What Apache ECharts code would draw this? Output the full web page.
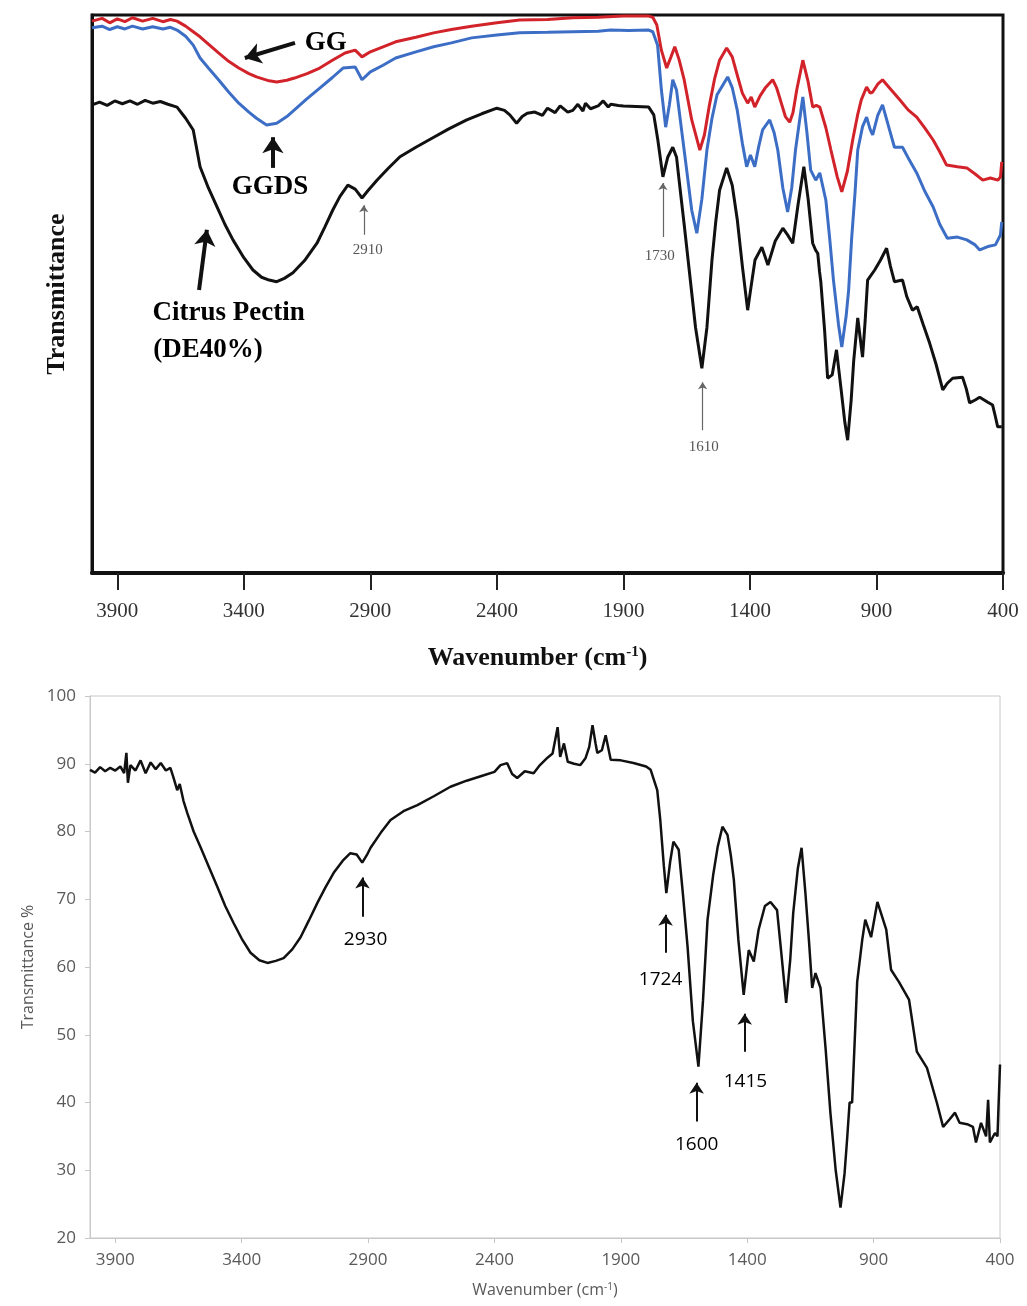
<!DOCTYPE html>
<html>
<head>
<meta charset="utf-8">
<script src="https://cdn.jsdelivr.net/npm/echarts@6/dist/echarts.min.js"></script>
<style>
  html, body { margin: 0; padding: 0; background: #fff; }
  #chart { width: 1027px; height: 1306px; }
</style>
</head>
<body>
<div id="chart"></div>
<script>
// tick labels shared by both panels
const xTicks = [3900, 3400, 2900, 2400, 1900, 1400, 900, 400];
const yTicksBottom = [20, 30, 40, 50, 60, 70, 80, 90, 100];

// top panel: GG (red)
const ggWn = [4000, 3960, 3930, 3900, 3870, 3840, 3800, 3760, 3720, 3690, 3664, 3630, 3600, 3573, 3540, 3500, 3460, 3420, 3380, 3350, 3300, 3270, 3230, 3200, 3150, 3100, 3050, 3000, 2960, 2933, 2900, 2850, 2800, 2720, 2650, 2580, 2500, 2400, 2310, 2200, 2100, 2000, 1900, 1800, 1784, 1768, 1750, 1729, 1712, 1697, 1680, 1660, 1630, 1598, 1580, 1560, 1540, 1520, 1492, 1470, 1450, 1430, 1409, 1395, 1381, 1360, 1340, 1310, 1295, 1280, 1260, 1243, 1230, 1215, 1191, 1170, 1152, 1138, 1124, 1100, 1080, 1055, 1037, 1015, 994, 975, 960, 939, 925, 915, 895, 876, 850, 808, 775, 741, 710, 676, 650, 623, 580, 543, 510, 480, 450, 420, 410, 405];
const ggT = [98.9, 99.4, 98.6, 99.3, 98.8, 99.5, 98.9, 99.4, 98.8, 99.2, 98.9, 98.0, 97.0, 96.1, 94.8, 93.2, 91.7, 90.5, 89.5, 88.9, 88.2, 88.0, 88.3, 88.7, 89.5, 90.5, 91.9, 93.2, 93.7, 92.5, 93.4, 94.3, 95.2, 96.0, 96.8, 97.4, 98.0, 98.6, 99.1, 99.2, 99.5, 99.6, 99.8, 99.8, 99.6, 98.2, 93.7, 90.5, 92.5, 94.3, 92.0, 88.4, 81.2, 75.8, 78.5, 83.9, 88.5, 91.9, 94.1, 92.5, 89.2, 86.0, 84.2, 85.3, 83.5, 85.5, 86.9, 88.4, 87.0, 84.8, 81.8, 80.8, 82.5, 86.6, 91.9, 88.0, 83.5, 83.8, 83.5, 79.8, 75.8, 71.0, 68.3, 72.0, 77.6, 82.0, 84.8, 87.1, 86.0, 86.2, 87.6, 88.4, 87.0, 84.8, 83.0, 81.7, 79.8, 77.6, 75.5, 73.1, 72.8, 72.6, 71.5, 70.4, 70.8, 70.4, 71.0, 73.7];

// top panel: GGDS (blue)
const ggdsWn = [4000, 3960, 3930, 3900, 3870, 3840, 3800, 3760, 3720, 3690, 3664, 3630, 3600, 3573, 3540, 3500, 3460, 3420, 3380, 3350, 3310, 3270, 3230, 3200, 3150, 3100, 3050, 3008, 2960, 2933, 2900, 2850, 2800, 2720, 2650, 2580, 2500, 2400, 2310, 2200, 2100, 2000, 1950, 1880, 1800, 1784, 1765, 1750, 1733, 1718, 1705, 1690, 1680, 1650, 1630, 1610, 1590, 1570, 1550, 1530, 1488, 1470, 1450, 1430, 1413, 1398, 1381, 1365, 1350, 1322, 1305, 1290, 1270, 1251, 1235, 1220, 1191, 1175, 1160, 1140, 1124, 1100, 1085, 1070, 1050, 1037, 1020, 1010, 998, 985, 974, 955, 939, 925, 915, 895, 876, 855, 829, 797, 770, 741, 710, 676, 650, 620, 580, 543, 510, 492, 460, 430, 410, 405];
const ggdsT = [97.7, 98.0, 97.4, 97.9, 97.5, 98.0, 97.5, 97.9, 97.5, 97.8, 97.3, 96.2, 94.6, 92.3, 90.5, 88.4, 86.2, 84.2, 82.6, 81.5, 80.3, 80.6, 81.8, 83.0, 85.0, 86.9, 88.8, 90.5, 90.7, 88.4, 89.8, 91.0, 92.3, 93.4, 94.3, 95.0, 95.9, 96.4, 96.8, 96.9, 97.0, 97.1, 97.3, 97.2, 97.3, 97.0, 94.6, 86.6, 79.9, 84.0, 88.4, 86.5, 82.9, 72.2, 65.0, 60.9, 67.0, 75.8, 81.5, 85.7, 88.9, 87.0, 82.9, 77.0, 72.8, 74.9, 72.8, 76.5, 79.4, 81.2, 79.0, 75.8, 69.0, 64.7, 69.0, 75.8, 85.3, 79.0, 72.2, 70.4, 71.7, 66.8, 60.0, 52.5, 44.5, 40.5, 46.0, 50.7, 60.0, 68.0, 75.8, 80.0, 81.7, 79.5, 78.5, 82.0, 83.9, 80.5, 76.3, 76.3, 74.0, 71.7, 68.5, 65.6, 62.5, 60.0, 60.2, 59.7, 58.8, 57.9, 58.5, 58.8, 60.6, 62.9];

// top panel: Citrus Pectin DE40% (black)
const pectinWn = [4000, 3970, 3940, 3910, 3880, 3850, 3820, 3790, 3760, 3730, 3700, 3664, 3630, 3600, 3573, 3540, 3506, 3475, 3443, 3400, 3364, 3330, 3300, 3270, 3240, 3206, 3160, 3111, 3080, 3048, 3020, 2989, 2960, 2933, 2910, 2874, 2830, 2783, 2720, 2653, 2590, 2519, 2460, 2400, 2370, 2349, 2322, 2300, 2280, 2250, 2220, 2200, 2170, 2150, 2120, 2100, 2080, 2060, 2050, 2030, 2000, 1980, 1960, 1950, 1920, 1900, 1850, 1800, 1780, 1764, 1744, 1725, 1705, 1690, 1680, 1660, 1640, 1615, 1590, 1570, 1550, 1535, 1520, 1492, 1470, 1450, 1430, 1409, 1395, 1380, 1353, 1329, 1300, 1270, 1250, 1231, 1210, 1187, 1170, 1152, 1140, 1132, 1125, 1120, 1105, 1093, 1075, 1058, 1040, 1025, 1014, 1000, 990, 974, 955, 945, 935, 907, 885, 860, 845, 829, 797, 780, 758, 739, 715, 690, 665, 638, 620, 599, 560, 545, 532, 510, 492, 460, 441, 430, 421, 405];
const pectinT = [83.9, 84.4, 83.8, 84.6, 84.1, 84.6, 84.0, 84.7, 84.2, 84.5, 84.0, 83.5, 81.5, 79.4, 72.8, 69.0, 65.6, 62.5, 59.7, 56.5, 54.3, 53.0, 52.5, 52.2, 52.8, 53.8, 56.0, 59.1, 62.0, 65.1, 67.5, 69.5, 68.8, 67.2, 68.5, 70.4, 72.5, 74.6, 76.3, 78.0, 79.6, 81.2, 82.3, 83.3, 82.9, 82.1, 80.6, 81.8, 82.4, 82.6, 82.0, 83.3, 82.5, 83.7, 82.6, 82.9, 84.0, 82.8, 84.2, 83.2, 83.7, 84.6, 83.5, 84.0, 83.8, 83.7, 83.6, 83.5, 82.1, 77.6, 71.0, 74.5, 76.3, 74.5, 70.4, 62.5, 54.3, 44.0, 36.7, 44.0, 56.1, 63.0, 68.6, 72.6, 69.5, 63.3, 55.0, 47.1, 51.5, 56.1, 58.4, 55.2, 59.5, 61.8, 60.5, 59.1, 66.0, 72.8, 67.0, 59.1, 57.8, 57.3, 54.0, 52.2, 43.5, 34.9, 35.5, 40.0, 33.0, 27.0, 23.8, 31.0, 38.0, 45.7, 38.7, 45.0, 52.5, 54.3, 56.0, 58.2, 55.0, 52.2, 52.5, 49.5, 47.1, 47.7, 44.5, 41.2, 37.5, 32.8, 34.0, 34.9, 35.1, 33.0, 30.5, 31.0, 31.5, 30.6, 30.1, 28.0, 26.2, 26.2];

// bottom panel: transmittance %
const specWn = [4000, 3980, 3960, 3940, 3920, 3900, 3880, 3865, 3856, 3850, 3840, 3820, 3800, 3780, 3760, 3740, 3720, 3700, 3682, 3670, 3655, 3645, 3630, 3615, 3590, 3563, 3530, 3496, 3465, 3432, 3400, 3365, 3330, 3298, 3265, 3234, 3200, 3167, 3135, 3100, 3068, 3036, 3000, 2970, 2945, 2923, 2905, 2890, 2850, 2811, 2760, 2705, 2640, 2574, 2510, 2442, 2400, 2376, 2350, 2330, 2310, 2280, 2245, 2220, 2190, 2170, 2150, 2140, 2125, 2110, 2085, 2060, 2040, 2025, 2012, 2000, 1993, 1975, 1960, 1940, 1900, 1850, 1800, 1782, 1756, 1744, 1730, 1720, 1705, 1692, 1671, 1655, 1636, 1615, 1593, 1575, 1557, 1535, 1517, 1498, 1478, 1465, 1453, 1435, 1414, 1394, 1374, 1355, 1330, 1308, 1282, 1265, 1246, 1230, 1218, 1200, 1185, 1170, 1156, 1143, 1130, 1110, 1090, 1071, 1050, 1031, 1015, 1005, 995, 985, 965, 945, 933, 910, 885, 850, 831, 800, 760, 729, 689, 650, 625, 600, 578, 560, 530, 507, 495, 475, 455, 447, 440, 420, 410, 400];
const specT = [89.1, 88.7, 89.5, 88.9, 89.4, 89.0, 89.6, 88.6, 91.6, 87.2, 89.8, 89.0, 90.5, 88.6, 90.2, 89.2, 90.1, 89.0, 89.4, 88.0, 86.1, 87.0, 84.5, 82.7, 80.0, 77.7, 74.8, 71.8, 69.0, 66.5, 64.2, 62.1, 61.0, 60.6, 60.9, 61.3, 62.6, 64.4, 66.8, 69.5, 71.8, 73.9, 75.7, 76.8, 76.6, 75.4, 76.5, 77.6, 79.8, 81.7, 83.0, 83.9, 85.2, 86.6, 87.5, 88.3, 88.8, 89.8, 90.1, 88.5, 87.9, 88.9, 88.6, 89.8, 90.9, 91.5, 95.4, 91.0, 93.0, 90.3, 90.0, 89.8, 90.8, 92.5, 95.7, 93.0, 91.6, 92.0, 94.2, 90.6, 90.5, 90.1, 89.6, 89.1, 86.1, 81.7, 75.0, 70.9, 75.5, 78.5, 77.3, 71.0, 63.0, 52.0, 45.3, 55.0, 67.0, 73.5, 77.7, 80.7, 79.5, 76.5, 72.9, 64.0, 55.9, 62.5, 60.8, 65.5, 69.0, 69.6, 68.4, 62.0, 54.7, 61.0, 68.0, 74.5, 77.6, 71.0, 64.0, 56.9, 59.1, 56.9, 48.0, 38.5, 30.0, 24.5, 29.5, 34.5, 40.0, 40.0, 57.8, 64.0, 67.0, 64.4, 69.6, 65.5, 59.6, 57.8, 55.2, 47.5, 45.1, 40.0, 36.4, 37.5, 38.5, 37.0, 36.8, 36.4, 34.1, 37.0, 35.0, 40.4, 34.1, 35.5, 35.0, 45.6];

// annotations [wavenumber, value, text]
const topLabels = [
  [3076, 95.0, 'GG'], [3297, 69.2, 'GGDS'],
  [3460, 46.6, 'Citrus Pectin'], [3542, 40.0, '(DE40%)']
];
const topPeakLabels = [[2910, 57.9, '2910'], [1756, 56.8, '1730'], [1583, 22.6, '1610']];
const topBoldArrows = [[3198, 95.0, 3396, 92.3], [3285, 72.6, 3285, 78.1], [3577, 50.7, 3546, 61.5]];
const topThinArrows = [[2926, 60.6, 2926, 65.9], [1744, 60.2, 1744, 69.9], [1587, 25.6, 1587, 34.2]];
const bottomLabels = [[2910, 64.0, '2930'], [1743, 58.1, '1724'], [1600, 33.8, '1600'], [1407, 43.1, '1415']];
const bottomArrows = [[2922, 67.4, 2922, 73.2], [1723, 62.1, 1723, 67.7], [1600, 37.2, 1600, 42.9], [1410, 47.5, 1410, 53.1]];

const zip = (a, b) => a.map((x, i) => [x, b[i]]);
const toLabels = (arr) => arr.map(d => ({ value: [d[0], d[1]], name: d[2] }));
const toArrows = (arr) => arr.map(d => ({ coords: [[d[0], d[1]], [d[2], d[3]]] }));
const plain = (v) => String(v);

const serif = 'Liberation Serif';
const sans = 'Open Sans';

// label-only scatter series (no visible symbol)
function labelSeries(xi, data, style) {
  return {
    type: 'scatter', xAxisIndex: xi, yAxisIndex: xi, symbolSize: 1, silent: true,
    itemStyle: { opacity: 0 },
    data: data,
    label: Object.assign({ show: true, position: 'inside', formatter: '{b}', opacity: 1, textBorderWidth: 0 }, style)
  };
}

const chart = echarts.init(document.getElementById('chart'));

const option = {
  animation: false,
  backgroundColor: '#fff',
  grid: [
    { left: 92, top: 15, width: 911, height: 558, show: true, borderColor: '#111', borderWidth: 3 },
    { left: 90, top: 696, width: 910, height: 542, show: true, borderColor: '#c8c8c8', borderWidth: 1 }
  ],
  xAxis: [
    {
      gridIndex: 0, type: 'value', inverse: true, min: 400, max: 4000,
      splitLine: { show: false },
      axisLine: { lineStyle: { color: '#111', width: 4 } },
      axisTick: { customValues: xTicks, length: 17, lineStyle: { color: '#222', width: 2 } },
      axisLabel: { customValues: xTicks, formatter: plain, margin: 28, color: '#333', fontFamily: serif, fontSize: 21 },
      name: 'Wavenumber (cm{sup|-1})', nameLocation: 'middle', nameGap: 72,
      nameTextStyle: {
        fontFamily: serif, fontSize: 26, fontWeight: 'bold', color: '#111', padding: [0, 20, 0, 0],
        rich: { sup: { fontFamily: serif, fontSize: 15, fontWeight: 'bold', color: '#111', verticalAlign: 'top', padding: [0, 0, 10, 0] } }
      }
    },
    {
      gridIndex: 1, type: 'value', inverse: true, min: 400, max: 4000,
      splitLine: { show: false },
      axisLine: { lineStyle: { color: '#c8c8c8', width: 1 } },
      axisTick: { customValues: xTicks, length: 5, lineStyle: { color: '#c8c8c8' } },
      axisLabel: { customValues: xTicks, formatter: plain, margin: 14, color: '#595959', fontFamily: sans, fontSize: 17 },
      name: 'Wavenumber (cm{sup|-1})', nameLocation: 'middle', nameGap: 44,
      nameTextStyle: {
        fontFamily: sans, fontSize: 16, color: '#595959',
        rich: { sup: { fontFamily: sans, fontSize: 10, color: '#595959', verticalAlign: 'top', padding: [0, 0, 7, 0] } }
      }
    }
  ],
  yAxis: [
    {
      gridIndex: 0, type: 'value', min: 0, max: 100,
      splitLine: { show: false }, axisTick: { show: false }, axisLabel: { show: false },
      axisLine: { lineStyle: { color: '#111', width: 3 } },
      name: 'Transmittance', nameLocation: 'middle', nameGap: 22, nameRotate: 90,
      nameTextStyle: { fontFamily: serif, fontSize: 26, fontWeight: 'bold', color: '#111' }
    },
    {
      gridIndex: 1, type: 'value', min: 20, max: 100, interval: 10,
      splitLine: { show: false },
      axisLine: { show: true, lineStyle: { color: '#c8c8c8' } },
      axisTick: { show: true, length: 5, lineStyle: { color: '#c8c8c8' } },
      axisLabel: { margin: 14, color: '#595959', fontFamily: sans, fontSize: 17, customValues: yTicksBottom },
      name: 'Transmittance %', nameLocation: 'middle', nameGap: 54, nameRotate: 90,
      nameTextStyle: { fontFamily: sans, fontSize: 16, color: '#595959' }
    }
  ],
  series: [
    {
      name: 'GG', type: 'line', xAxisIndex: 0, yAxisIndex: 0, data: zip(ggWn, ggT),
      showSymbol: false, lineStyle: { color: '#d2232a', width: 3 }, silent: true
    },
    {
      name: 'GGDS', type: 'line', xAxisIndex: 0, yAxisIndex: 0, data: zip(ggdsWn, ggdsT),
      showSymbol: false, lineStyle: { color: '#3d6ec6', width: 3 }, silent: true
    },
    {
      name: 'Citrus Pectin', type: 'line', xAxisIndex: 0, yAxisIndex: 0, data: zip(pectinWn, pectinT),
      showSymbol: false, lineStyle: { color: '#111', width: 3 }, silent: true
    },
    {
      name: 'spectrum', type: 'line', xAxisIndex: 1, yAxisIndex: 1, data: zip(specWn, specT),
      showSymbol: false, lineStyle: { color: '#111', width: 2.5 }, silent: true
    },
    {
      type: 'lines', coordinateSystem: 'cartesian2d', xAxisIndex: 0, yAxisIndex: 0,
      data: toArrows(topBoldArrows), symbol: ['none', 'arrow'], symbolSize: 16,
      lineStyle: { color: '#111', width: 4, opacity: 1 }, silent: true
    },
    {
      type: 'lines', coordinateSystem: 'cartesian2d', xAxisIndex: 0, yAxisIndex: 0,
      data: toArrows(topThinArrows), symbol: ['none', 'arrow'], symbolSize: 7,
      lineStyle: { color: '#666', width: 1.2, opacity: 1 }, silent: true
    },
    {
      type: 'lines', coordinateSystem: 'cartesian2d', xAxisIndex: 1, yAxisIndex: 1,
      data: toArrows(bottomArrows), symbol: ['none', 'arrow'], symbolSize: 11,
      lineStyle: { color: '#111', width: 2, opacity: 1 }, silent: true
    },
    labelSeries(0, toLabels(topLabels), { fontFamily: serif, fontSize: 27, fontWeight: 'bold', color: '#000' }),
    labelSeries(0, toLabels(topPeakLabels), { fontFamily: serif, fontSize: 15, color: '#555' }),
    labelSeries(1, toLabels(bottomLabels), { fontFamily: sans, fontSize: 19, color: '#000' })
  ]
};

chart.setOption(option);
</script>
</body>
</html>
